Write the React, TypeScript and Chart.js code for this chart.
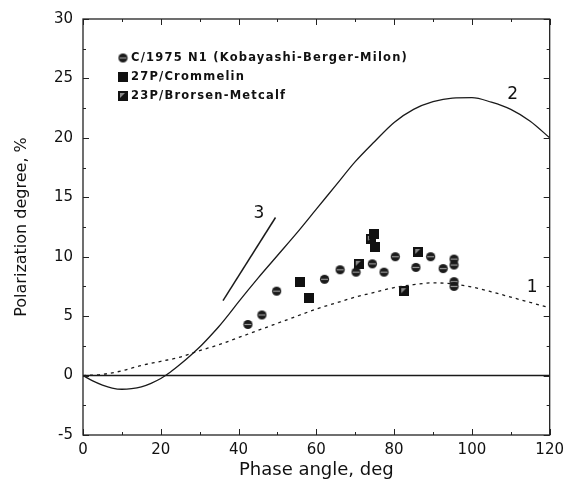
import React, { useEffect, useRef } from 'react';
import { Chart, registerables } from 'chart.js';

Chart.register(...registerables);

// ---- data ----
const curve1X = [0, 5, 10, 15, 20, 25, 30, 35, 40, 45, 50, 55, 60, 65, 70, 75, 80, 85, 90, 95, 100, 105, 110, 115, 120];
const curve1Y = [0, 0.1, 0.4, 0.85, 1.2, 1.55, 2.1, 2.6, 3.2, 3.8, 4.4, 5.0, 5.6, 6.1, 6.6, 7.0, 7.4, 7.65, 7.8, 7.72, 7.45, 7.05, 6.6, 6.15, 5.7];

const curve2X = [0, 2.5, 5, 7.5, 10, 12.5, 15, 17.5, 20, 22.5, 25, 27.5, 30, 32.5, 35, 37.5, 40, 45, 50, 55, 60, 65, 70, 75, 80, 85, 90, 95, 100, 105, 110, 115, 120];
const curve2Y = [0, -0.45, -0.8, -1.05, -1.15, -1.1, -0.95, -0.65, -0.25, 0.3, 0.95, 1.65, 2.4, 3.25, 4.15, 5.15, 6.2, 8.2, 10.1, 12.0, 14.0, 16.0, 18.0, 19.7, 21.3, 22.4, 23.05, 23.35, 23.38, 23.0, 22.4, 21.4, 20.0];

const curve3X = [36, 49.5];
const curve3Y = [6.3, 13.3];

const zeroX = [0, 120];
const zeroY = [0, 0];

const kbmX = [42.4, 46.0, 49.8, 62.1, 66.1, 70.2, 74.4, 77.4, 80.3, 85.6, 89.4, 92.6, 95.4, 95.4, 95.4, 95.4];
const kbmY = [4.3, 5.1, 7.1, 8.1, 8.9, 8.7, 9.4, 8.7, 10.0, 9.1, 10.0, 9.0, 9.8, 9.3, 7.9, 7.5];

const crommelinX = [55.8, 58.2, 74.9, 75.1];
const crommelinY = [7.9, 6.5, 11.9, 10.8];

const brorsenX = [74.0, 70.9, 86.2, 82.6];
const brorsenY = [11.5, 9.4, 10.4, 7.1];

const legendLabels = [
  'C/1975 N1 (Kobayashi-Berger-Milon)',
  '27P/Crommelin',
  '23P/Brorsen-Metcalf',
];

const curveLabels = ['1', '2', '3'];
const curveLabelX = [115.5, 110.5, 45.2];
const curveLabelY = [7.4, 23.6, 13.6];

const xMin = 0, xMax = 120, xStep = 20, xMinor = 10;
const yMin = -5, yMax = 30, yStep = 5, yMinor = 2.5;

const xTitle = 'Phase angle, deg';
const yTitle = 'Polarization degree, %';

const FONT = '"DejaVu Sans", "Liberation Sans", Arial, sans-serif';

function pts(xs: number[], ys: number[]) {
  return xs.map((x, i) => ({ x, y: ys[i] }));
}

function makeCircleMarker() {
  const c = document.createElement('canvas');
  c.width = 11; c.height = 11;
  const g = c.getContext('2d')!;
  g.fillStyle = '#1a1a1a';
  g.beginPath(); g.arc(5.5, 5.5, 4.6, 0, Math.PI * 2); g.fill();
  g.strokeStyle = '#9a9a9a'; g.lineWidth = 1.2;
  g.beginPath(); g.moveTo(2, 5.5); g.lineTo(9, 5.5); g.stroke();
  return c;
}

function makeSquareMarker() {
  const c = document.createElement('canvas');
  c.width = 10; c.height = 10;
  const g = c.getContext('2d')!;
  g.fillStyle = '#111';
  g.fillRect(0, 0, 10, 10);
  return c;
}

function makeHalfSquareMarker() {
  const c = document.createElement('canvas');
  c.width = 10; c.height = 10;
  const g = c.getContext('2d')!;
  g.fillStyle = '#111';
  g.fillRect(0, 0, 10, 10);
  g.fillStyle = '#8a8a8a';
  g.beginPath(); g.moveTo(2, 2); g.lineTo(7, 2); g.lineTo(2, 7); g.closePath(); g.fill();
  return c;
}

export default function App() {
  const ref = useRef<HTMLCanvasElement | null>(null);

  useEffect(() => {
    const canvas = ref.current;
    if (!canvas) return;
    const circ = makeCircleMarker();
    const sq = makeSquareMarker();
    const hsq = makeHalfSquareMarker();
    const markers = [circ, sq, hsq];

    const framePlugin = {
      id: 'frame',
      afterDatasetsDraw(chart: any) {
        const { ctx, chartArea, scales } = chart;
        const { left, right, top, bottom } = chartArea;
        const xs = scales.x, ys = scales.y;
        ctx.save();
        ctx.strokeStyle = '#222';
        ctx.lineWidth = 1.3;
        ctx.strokeRect(left, top, right - left, bottom - top);
        ctx.lineWidth = 1;
        ctx.beginPath();
        for (let v = xMin; v <= xMax + 1e-9; v += xMinor) {
          const px = Math.round(xs.getPixelForValue(v)) + 0.5;
          const len = Math.abs(v % xStep) < 1e-9 ? 6 : 3;
          ctx.moveTo(px, bottom); ctx.lineTo(px, bottom - len);
          ctx.moveTo(px, top); ctx.lineTo(px, top + len);
        }
        for (let v = yMin; v <= yMax + 1e-9; v += yMinor) {
          const py = Math.round(ys.getPixelForValue(v)) + 0.5;
          const len = Math.abs(v % yStep) < 1e-9 ? 6 : 3;
          ctx.moveTo(left, py); ctx.lineTo(left + len, py);
          ctx.moveTo(right, py); ctx.lineTo(right - len, py);
        }
        ctx.stroke();

        // curve labels
        ctx.fillStyle = '#111';
        ctx.font = `17px ${FONT}`;
        ctx.textAlign = 'center';
        ctx.textBaseline = 'middle';
        curveLabels.forEach((t, i) => {
          ctx.fillText(t, xs.getPixelForValue(curveLabelX[i]), ys.getPixelForValue(curveLabelY[i]));
        });

        // legend
        ctx.font = `bold 11.5px ${FONT}`;
        ctx.textAlign = 'left';
        ctx.textBaseline = 'middle';
        try { (ctx as any).letterSpacing = '1.2px'; } catch (e) {}
        const lx = left + 40;
        const ly0 = top + 39;
        legendLabels.forEach((t, i) => {
          const yy = ly0 + i * 19;
          const m = markers[i];
          ctx.drawImage(m, lx - m.width / 2, yy - m.height / 2);
          ctx.fillText(t, lx + 8, yy + 0.5);
        });
        ctx.restore();
      },
    };

    const lineBase = {
      type: 'line' as const,
      showLine: true,
      pointRadius: 0,
      borderColor: '#1a1a1a',
      fill: false,
      cubicInterpolationMode: 'monotone' as const,
    };

    const chart = new Chart(canvas, {
      type: 'scatter',
      data: {
        datasets: [
          { ...lineBase, label: 'zero', data: pts(zeroX, zeroY), borderWidth: 1.5, cubicInterpolationMode: 'default', tension: 0 },
          { ...lineBase, label: '1', data: pts(curve1X, curve1Y), borderWidth: 1.3, borderDash: [3, 4] },
          { ...lineBase, label: '2', data: pts(curve2X, curve2Y), borderWidth: 1.3 },
          { ...lineBase, label: '3', data: pts(curve3X, curve3Y), borderWidth: 1.5, cubicInterpolationMode: 'default', tension: 0 },
          { label: legendLabels[0], data: pts(kbmX, kbmY), pointStyle: circ as any, pointRadius: 5, showLine: false },
          { label: legendLabels[1], data: pts(crommelinX, crommelinY), pointStyle: sq as any, pointRadius: 5, showLine: false },
          { label: legendLabels[2], data: pts(brorsenX, brorsenY), pointStyle: hsq as any, pointRadius: 5, showLine: false },
        ] as any,
      },
      options: {
        animation: false,
        responsive: false,
        devicePixelRatio: 1,
        layout: { padding: { top: 15, right: 19, left: 0, bottom: 0 } },
        plugins: { legend: { display: false }, tooltip: { enabled: false } },
        scales: {
          x: {
            type: 'linear',
            min: xMin, max: xMax,
            ticks: { stepSize: xStep, padding: 6, color: '#111', font: { family: FONT, size: 15 }, maxRotation: 0 },
            grid: { display: false, drawTicks: false },
            border: { display: false },
            title: { display: true, text: xTitle, color: '#111', font: { family: FONT, size: 18 }, padding: { top: 0, bottom: 4 } },
            afterFit: (s: any) => { s.height = 50; },
          },
          y: {
            type: 'linear',
            min: yMin, max: yMax,
            ticks: { stepSize: yStep, padding: 10, color: '#111', font: { family: FONT, size: 15 } },
            grid: { display: false, drawTicks: false },
            border: { display: false },
            title: { display: true, text: yTitle, color: '#111', font: { family: FONT, size: 16 }, padding: { top: 12, bottom: 0 } },
            afterFit: (s: any) => { s.width = 83; },
          },
        },
      } as any,
      plugins: [framePlugin],
    });
    return () => chart.destroy();
  }, []);

  return (
    <div style={{ position: 'fixed', left: 0, top: 0, width: 570, height: 485, background: '#fff' }}>
      <canvas ref={ref} width={570} height={485} style={{ display: 'block', width: 570, height: 485 }} />
    </div>
  );
}
